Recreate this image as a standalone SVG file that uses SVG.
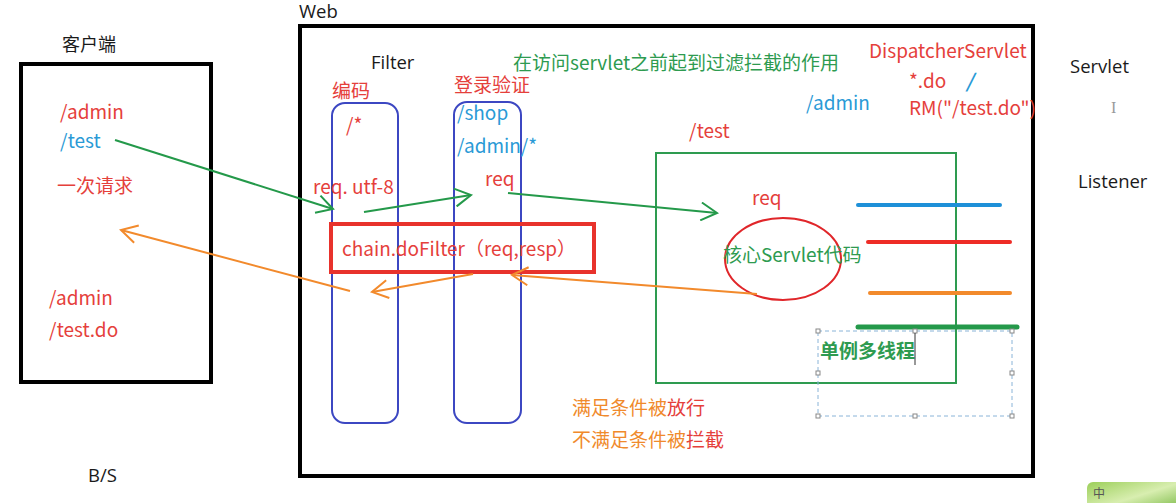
<svg xmlns="http://www.w3.org/2000/svg" width="1176" height="503" viewBox="0 0 1176 503">
<style>
text{font-family:"Noto Sans CJK SC","Noto Sans",sans-serif;font-size:19px}
.k{fill:#1a1a1a;font-family:"Open Sans","Noto Sans","Noto Sans CJK SC",sans-serif;font-size:18.5px}
.r{fill:#e5403b}
.b{fill:#2a9ad6}
.g{fill:#2e9b50}
.o{fill:#f08a2c}
.box{fill:none;stroke:#000;stroke-width:4}
.flt{fill:none;stroke:#3c47c2;stroke-width:2}
.ga{fill:none;stroke:#24994a;stroke-width:2;marker-end:url(#mg)}
.oa{fill:none;stroke:#f28a2c;stroke-width:2;marker-end:url(#mo)}
.hd{fill:#fff;stroke:#888;stroke-width:1}
</style>
<defs>
<marker id="mg" viewBox="0 0 20 20" refX="18" refY="10" markerWidth="20" markerHeight="20" markerUnits="userSpaceOnUse" orient="auto"><path d="M2,1 L18,10 L2,19" fill="none" stroke="#24994a" stroke-width="2"/></marker>
<marker id="mo" viewBox="0 0 20 20" refX="18" refY="10" markerWidth="20" markerHeight="20" markerUnits="userSpaceOnUse" orient="auto"><path d="M2,1 L18,10 L2,19" fill="none" stroke="#f28a2c" stroke-width="2"/></marker>
<linearGradient id="lg" x1="0" y1="0" x2="1" y2="1"><stop offset="0" stop-color="#9ccf5a"/><stop offset="0.5" stop-color="#d8eeb0"/><stop offset="1" stop-color="#6fb33a"/></linearGradient>
</defs>
<rect width="1176" height="503" fill="#fff"/>

<g id="client">
<rect class="box" x="21" y="64" width="190" height="318"/>
<text class="k" x="62" y="51" style="font-family:'Noto Sans CJK SC',sans-serif;font-size:18px">客户端</text>
<text class="r" x="60" y="119">/admin</text>
<text class="b" x="60" y="148">/test</text>
<text class="r" x="57" y="193">一次请求</text>
<text class="r" x="49" y="305">/admin</text>
<text class="r" x="49" y="337">/test.do</text>
</g>
<text id="bs" class="k" x="88" y="482">B/S</text>

<g id="web">
<rect class="box" x="300" y="26" width="733" height="450"/>
<text class="k" x="299" y="18">Web</text>
<text class="k" x="371" y="69">Filter</text>
<text class="g" x="513" y="70">在访问servlet之前起到过滤拦截的作用</text>
</g>

<g id="filter-encoding">
<rect class="flt" x="332" y="103" width="66" height="320" rx="13"/>
<text class="r" x="332" y="98">编码</text>
<text class="r" x="346" y="132">/*</text>
<text class="r" x="313" y="194">req. utf-8</text>
</g>

<g id="filter-login">
<rect class="flt" x="454" y="102" width="67" height="321" rx="13"/>
<text class="r" x="454" y="92">登录验证</text>
<text class="b" x="457" y="120">/shop</text>
<text class="b" x="457" y="153">/admin/*</text>
<text class="r" x="485" y="186">req</text>
</g>

<g id="chain">
<rect x="331" y="224" width="263" height="48" fill="none" stroke="#e8322c" stroke-width="4"/>
<text class="r" x="342" y="256">chain.doFilter（req,resp）</text>
</g>

<g id="servlet">
<rect x="656" y="153" width="300" height="230" fill="none" stroke="#2e9b50" stroke-width="2"/>
<text class="r" x="689" y="138">/test</text>
<text class="r" x="752" y="205">req</text>
<ellipse cx="783" cy="259" rx="58" ry="41" fill="none" stroke="#e0262a" stroke-width="2"/>
<text class="g" x="723" y="262">核心Servlet代码</text>
<line x1="858" y1="205" x2="1000" y2="205" stroke="#1e90d8" stroke-width="4" stroke-linecap="round"/>
<line x1="868" y1="242" x2="1010" y2="242" stroke="#ee2c26" stroke-width="4" stroke-linecap="round"/>
<line x1="870" y1="293" x2="1010" y2="293" stroke="#f28a2c" stroke-width="4" stroke-linecap="round"/>
<line x1="858" y1="327" x2="1017" y2="327" stroke="#24994a" stroke-width="5" stroke-linecap="round"/>
</g>

<g id="dispatcher">
<text class="r" x="869" y="58">DispatcherServlet</text>
<text class="r" x="909" y="88">*.do</text>
<text class="b" x="966" y="88" style="font-weight:bold;font-style:italic">/</text>
<text class="b" x="806" y="110">/admin</text>
<text class="r" x="909" y="115">RM("/test.do")</text>
</g>

<g id="singleton">
<rect x="818" y="331" width="194" height="85" fill="none" stroke="#8ab4d8" stroke-width="1" stroke-dasharray="4,3"/>
<rect class="hd" x="816" y="329" width="4" height="4"/><rect class="hd" x="913" y="329" width="4" height="4"/><rect class="hd" x="1010" y="329" width="4" height="4"/>
<rect class="hd" x="816" y="371" width="4" height="4"/><rect class="hd" x="1010" y="371" width="4" height="4"/>
<rect class="hd" x="816" y="414" width="4" height="4"/><rect class="hd" x="913" y="414" width="4" height="4"/><rect class="hd" x="1010" y="414" width="4" height="4"/>
<text x="820" y="358" style="fill:#2e9b50;font-weight:bold;font-size:19px">单例多线程</text>
<line x1="915" y1="333" x2="915" y2="365" stroke="#333" stroke-width="1"/>
</g>

<g id="notes">
<text x="572" y="415"><tspan class="o">满足条件被</tspan><tspan class="r">放行</tspan></text>
<text x="572" y="447"><tspan class="o">不满足条件被</tspan><tspan class="r">拦截</tspan></text>
</g>

<g id="outside">
<text class="k" x="1070" y="73">Servlet</text>
<text x="1111" y="113" style="fill:#999;font-family:'Liberation Serif',serif;font-size:16px">I</text>
<text class="k" x="1078" y="188">Listener</text>
</g>

<g id="connectors">
<path class="ga" d="M115,140 L333,209"/>
<path class="ga" d="M364,212 L471,195"/>
<path class="ga" d="M508,193 L717,213"/>
<path class="oa" d="M757,294 L512,275"/>
<path class="oa" d="M473,274 L372,292"/>
<path class="oa" d="M350,291 L121,230"/>
</g>

<g id="tray">
<rect x="1087" y="482" width="95" height="30" rx="6" fill="url(#lg)"/>
<text x="1093" y="498" style="font-size:12px;fill:#555">中</text>
</g>
</svg>
